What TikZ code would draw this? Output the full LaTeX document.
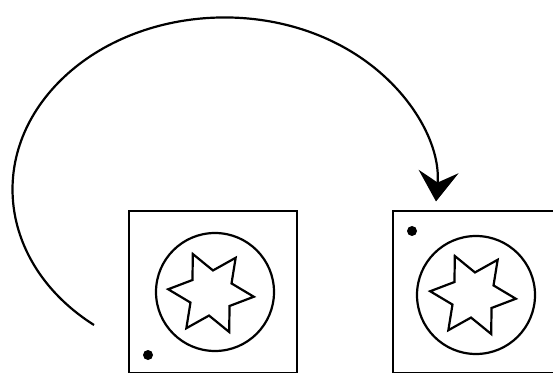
\documentclass[tikz,border=0pt]{standalone}
\usetikzlibrary{arrows.meta,shapes.geometric}

\begin{document}
\begin{tikzpicture}[x=1pt,y=1pt,
  frame/.style={draw, line width=2.8pt, rectangle, inner sep=0pt},
  disc/.style={draw, line width=2.2pt, circle, inner sep=0pt, minimum size=118pt},
  sixstar/.style={draw, line width=2.2pt, star, star points=6, star point ratio=1.9, inner sep=0pt, minimum size=86pt, shape border rotate=25},
  spot/.style={fill, circle, inner sep=0pt, minimum size=10pt}]
\clip (0,0) rectangle (553,372);
% left card
\node[frame, minimum width=168pt, minimum height=162pt] (cardL) at (213,80) {};
\node[disc] (discL) at (215,80) {};
\node[sixstar] (starL) at (211,79) {};
\node[spot] (spotL) at (148,17) {};
% right card
\node[frame, minimum width=168pt, minimum height=162pt] (cardR) at (477,80) {};
\node[disc] (discR) at (476,77) {};
\node[sixstar] (starR) at (473,77) {};
\node[spot] (spotR) at (412,141) {};
% the flip
\coordinate (tail) at (94,47);
\draw[line width=2.2pt, -{Stealth[length=30pt, width=40pt, inset=11pt]}] (tail) arc[start angle=232, end angle=-4, x radius=212, y radius=172];
\end{tikzpicture}
\end{document}
